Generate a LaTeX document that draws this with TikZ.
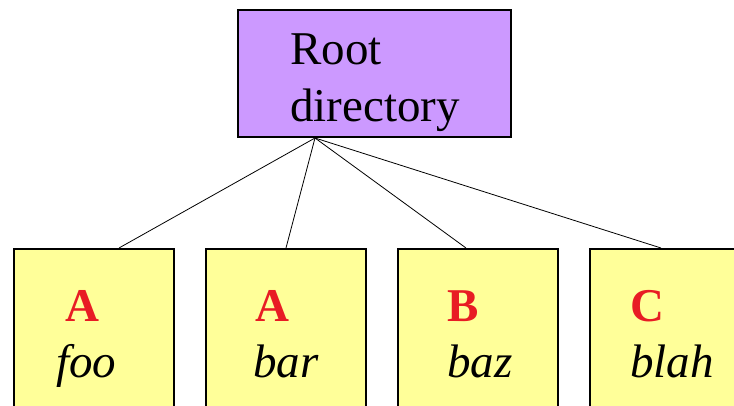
\documentclass[tikz,border=0pt]{standalone}
\usepackage{fontspec}
\newfontfamily\rootfont{Liberation Serif}
\newfontfamily\sansfam{Liberation Sans}
\usetikzlibrary{calc}
\definecolor{rootfill}{RGB}{204,153,255}
\definecolor{dirfill}{RGB}{255,255,153}
\definecolor{tagred}{RGB}{232,28,36}
\newcommand{\plaintxt}[1]{{\fontsize{47}{57}\selectfont\rootfont #1}}
\newcommand{\tagtxt}[1]{{\fontsize{47}{57}\selectfont\rootfont\bfseries #1}}
\newcommand{\nametxt}[1]{{\fontsize{47}{57}\selectfont\rootfont\itshape #1}}
\tikzset{
  box/.style={draw=black, line width=2pt, inner sep=0pt},
  rootbox/.style={box, fill=rootfill, minimum width=273pt, minimum height=127pt},
  dirbox/.style={box, fill=dirfill, minimum width=160pt, minimum height=180pt},
  txt/.style={anchor=base west, inner sep=0pt},
  tagstyle/.style={txt, text=tagred},
  link/.style={draw=black, line width=0.8pt}
}
\begin{document}
\begin{tikzpicture}[x=1pt, y=-1pt]
  \useasboundingbox (0,0) rectangle (734,406);

  % root directory
  \node[rootbox] (root) at (374.5,73.5) {};
  \node[txt] (rootA) at (290,65) {\plaintxt{Root}};
  \node[txt] (rootB) at (290,122) {\plaintxt{directory}};

  % files in the root directory (they run past the lower page edge)
  \node[dirbox] (foo)  at (94,339) {};
  \node[dirbox] (bar)  at (286,339) {};
  \node[dirbox] (baz)  at (478,339) {};
  \node[dirbox] (blah) at (670,339) {};

  % connectors from the root
  \coordinate (hub) at ($(root.south west)+(78,0)$);
  \coordinate (fooTop)  at ($(foo.north west)+(106,0)$);
  \coordinate (barTop)  at ($(bar.north west)+(81,0)$);
  \coordinate (bazTop)  at ($(baz.north west)+(69,0)$);
  \coordinate (blahTop) at ($(blah.north west)+(72,0)$);
  \draw[link] (hub) -- (fooTop);
  \draw[link] (hub) -- (barTop);
  \draw[link] (hub) -- (bazTop);
  \draw[link] (hub) -- (blahTop);

  % entries
  \node[tagstyle] (fooTag)   at (65,321)  {\tagtxt{A}};
  \node[txt]      (fooName)  at (56,377)  {\nametxt{foo}};
  \node[tagstyle] (barTag)   at (255,321) {\tagtxt{A}};
  \node[txt]      (barName)  at (253,377) {\nametxt{bar}};
  \node[tagstyle] (bazTag)   at (447,321) {\tagtxt{B}};
  \node[txt]      (bazName)  at (447,377) {\nametxt{baz}};
  \node[tagstyle] (blahTag)  at (630,321) {\tagtxt{C}};
  \node[txt]      (blahName) at (630,377) {\nametxt{blah}};
\end{tikzpicture}
\end{document}
